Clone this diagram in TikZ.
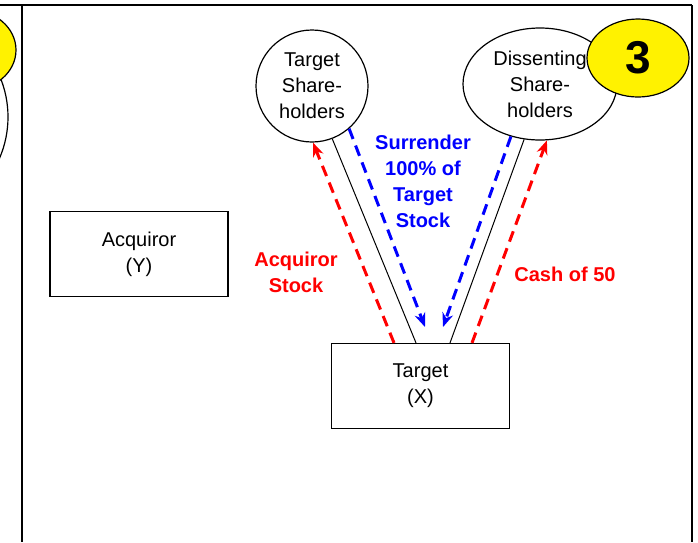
\documentclass[tikz,border=0pt]{standalone}
\usepackage{fontspec}
\setmainfont{Liberation Sans}
\usetikzlibrary{shapes.geometric, positioning, arrows.meta}
\tikzset{>={Stealth[length=14pt,width=11pt]},
         party/.style={draw, line width=1.2pt, fill=white, align=center, inner sep=0pt},
         firm/.style={draw, line width=1.2pt, minimum width=178pt, minimum height=85pt, align=center},
         badge/.style={ellipse, draw, line width=1.2pt, fill=yellow, minimum width=102pt, minimum height=78pt,
                       font=\fontsize{46}{46}\selectfont\bfseries},
         cashflow/.style={->, red, line width=3pt, dash pattern=on 11pt off 7pt},
         stockflow/.style={->, blue, line width=3pt, dash pattern=on 11pt off 7pt},
         tie/.style={draw, line width=1pt},
         note/.style={font=\bfseries, align=center},
         }

\begin{document}
\begin{tikzpicture}[x=1pt, y=-1pt]
    \fontsize{20}{26}\selectfont
    \useasboundingbox (0,0) rectangle (698,542);

    % edge of the panel on the left
    \begin{scope}
        \clip (0,0) rectangle (22,542);
        \draw[line width=1.2pt, fill=white] (-96,117) circle [radius=104];
        \draw[line width=1.2pt, fill=yellow] (-30,50) ellipse [x radius=46, y radius=40];
    \end{scope}

    % frame
    \draw[line width=2pt] (0,5) -- (692,5);
    \draw[line width=2pt] (22,5) -- (22,542);
    \draw[line width=2pt] (692,5) -- (692,542);

    \node[party, circle, minimum size=112pt] (tsh) at (312,86) {Target\\Share-\\holders};
    \node[party, ellipse, minimum width=154pt, minimum height=112pt] (dsh) at (540,84) {Dissenting\\Share-\\holders};
    \node[badge] (step3) at (638,58) {3};

    \node[firm] (acq) at (139,254) {Acquiror\\(Y)};
    \node[firm] (tgt) at (420.5,386) {Target\\(X)};

    \coordinate (inL) at (425,327);
    \coordinate (inR) at (443,327);

    \draw[tie] ([xshift=-4.5pt]tgt.north) -- (tsh.-69);
    \draw[tie] ([xshift=29.5pt]tgt.north) -- (dsh.-106);

    \draw[cashflow] ([xshift=-26.5pt]tgt.north) -- (tsh.-89);
    \draw[cashflow] ([xshift=51.5pt]tgt.north) -- (dsh.-83);
    \draw[stockflow] (tsh.-49) -- (inL);
    \draw[stockflow] (dsh.-119) -- (inR);

    \node[note, blue] (surr) at (423,181) {Surrender\\100\% of\\Target\\Stock};
    \node[note, red] (acqstk) at (296,272) {Acquiror\\Stock};
    \node[note, red] (cash) at (565,274) {Cash of 50};
\end{tikzpicture}
\end{document}
